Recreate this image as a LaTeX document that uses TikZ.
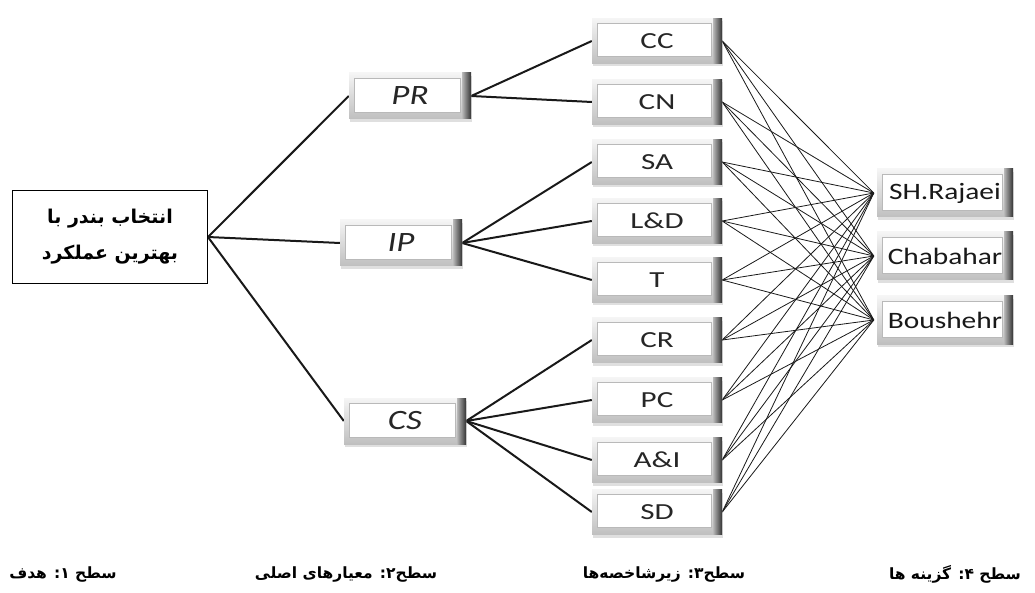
\documentclass[tikz,border=0pt]{standalone}
\usepackage{fontspec}
\setmainfont{Carlito}
\newfontfamily\arabicfont[Script=Arabic]{DejaVu Sans}
\newfontfamily\latA[FakeStretch=1.35]{Carlito}
\newfontfamily\latB[FakeStretch=1.25]{Carlito}
\TeXXeTstate=1
\usetikzlibrary{shadows,backgrounds}
\tikzset{
  bevelbox/.style={inner sep=0pt, fill=gray!25,
    drop shadow={opacity=0.25, shadow xshift=1pt, shadow yshift=-3pt},
    path picture={
      \shade[top color=gray!8, bottom color=gray!50]
        (path picture bounding box.south west) rectangle (path picture bounding box.north east);
      \fill[white, draw=gray!55, line width=0.4pt]
        ([xshift=5pt,yshift=-5pt]path picture bounding box.north west)
        rectangle ([xshift=-11pt,yshift=7pt]path picture bounding box.south east);
      \shade[left color=gray!55, right color=black!80]
        ([xshift=-9pt]path picture bounding box.south east)
        rectangle (path picture bounding box.north east);
    }},
  lvtwo/.style={bevelbox, minimum width=122pt, minimum height=46pt,
    font=\latB\itshape\fontsize{28}{30}\selectfont, text=black!85},
  lvthree/.style={bevelbox, minimum width=130pt, minimum height=45pt,
    font=\latA\fontsize{23}{24}\selectfont, text=black!85},
  lvfour/.style={bevelbox, minimum width=136pt, minimum height=48pt,
    font=\latB\fontsize{23.5}{28}\selectfont, text=black!90},
  goalbox/.style={draw=black, line width=0.9pt, fill=white,
    minimum width=195pt, minimum height=93pt, align=center,
    font=\arabicfont\bfseries\fontsize{19}{36}\selectfont},
  levellabel/.style={font=\arabicfont\bfseries\fontsize{15.5}{18}\selectfont, inner sep=0pt},
  thick edge/.style={line width=2pt, black!90},
  thin edge/.style={line width=0.8pt, black!90}
}
\begin{document}
\begin{tikzpicture}[x=1pt,y=-1pt]
\useasboundingbox (0,0) rectangle (1035,593);

\node[goalbox] (goal) at (110,237) {\beginR انتخاب بندر با\endR\\\beginR بهترین عملکرد\endR};

\node[lvtwo] (pr) at (410,96) {PR};
\node[lvtwo] (ip) at (401,243) {IP};
\node[lvtwo] (cs) at (405,421) {CS};

\node[lvthree] (cc) at (657,41) {CC};
\node[lvthree] (cn) at (657,102) {CN};
\node[lvthree] (sa) at (657,162) {SA};
\node[lvthree] (ld) at (657,221) {L\&D};
\node[lvthree] (t)  at (657,280) {T};
\node[lvthree] (cr) at (657,340) {CR};
\node[lvthree] (pc) at (657,400) {PC};
\node[lvthree] (ai) at (657,460) {A\&I};
\node[lvthree] (sd) at (657,512) {SD};

\node[lvfour] (sh) at (945,193) {SH.Rajaei};
\node[lvfour] (ch) at (945,256) {Chabahar};
\node[lvfour] (bo) at (945,320) {Boushehr};

\node[levellabel] (lab1) at (63,574) {\beginR سطح ۱: هدف\endR};
\node[levellabel] (lab2) at (346,574) {\beginR سطح۲: معیارهای اصلی\endR};
\node[levellabel] (lab3) at (664,574) {\beginR سطح۳: زیرشاخصه‌ها\endR};
\node[levellabel] (lab4) at (955,574) {\beginR سطح ۴: گزینه ها\endR};

\begin{scope}[on background layer]
  \foreach \b in {pr,ip,cs} \draw[thick edge] (goal.east) -- (\b.west);
  \foreach \b in {cc,cn} \draw[thick edge] (pr.east) -- (\b.west);
  \foreach \b in {sa,ld,t} \draw[thick edge] (ip.east) -- (\b.west);
  \foreach \b in {cr,pc,ai,sd} \draw[thick edge] (cs.east) -- (\b.west);
  \foreach \a in {cc,cn,sa,ld,t,cr,pc,ai,sd}
    \foreach \b in {sh,ch,bo}
      \draw[thin edge] (\a.east) -- ([xshift=-3pt]\b.west);
\end{scope}
\end{tikzpicture}
\end{document}
